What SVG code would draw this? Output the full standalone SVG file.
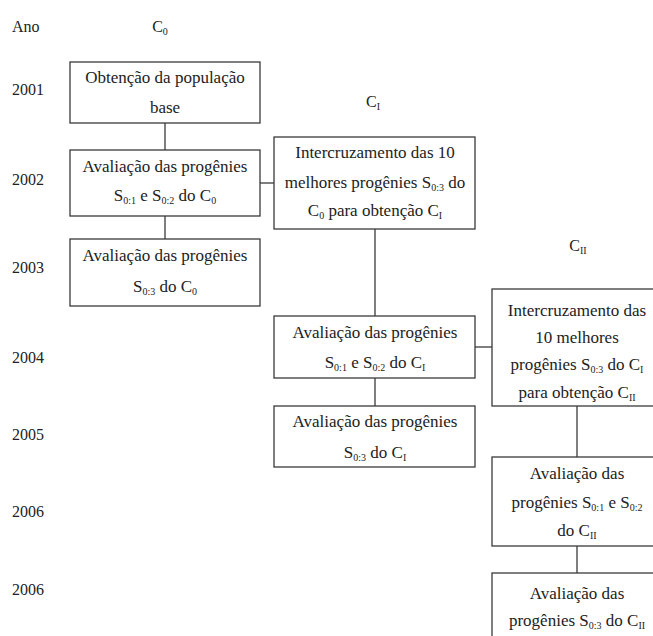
<svg xmlns="http://www.w3.org/2000/svg" width="653" height="636" viewBox="0 0 653 636" font-family="'Liberation Serif', 'Times New Roman', Tinos, 'DejaVu Serif', serif">
<style>
text{fill:#222;}
.t{font-size:17px;text-anchor:middle;}
.y{font-size:16px;}
.h{font-size:16px;text-anchor:middle;}
.box{fill:#fff;stroke:#3a3a3a;stroke-width:1.3;}
.c{stroke:#3a3a3a;stroke-width:1.3;fill:none;}
</style>
<rect width="653" height="636" fill="#fff"/>
<g id="years">
<text class="y" x="12" y="32">Ano</text>
<text class="y" x="12" y="95">2001</text>
<text class="y" x="12" y="185">2002</text>
<text class="y" x="12" y="273">2003</text>
<text class="y" x="12" y="363">2004</text>
<text class="y" x="12" y="440">2005</text>
<text class="y" x="12" y="517">2006</text>
<text class="y" x="12" y="595">2006</text>
</g>
<g id="headers">
<text class="h" x="160" y="32">C<tspan dy="3" font-size="10">0</tspan></text>
<text class="h" x="373" y="107">C<tspan dy="3" font-size="10">I</tspan></text>
<text class="h" x="578" y="251">C<tspan dy="3" font-size="10">II</tspan></text>
</g>
<g id="connectors">
<line class="c" x1="165" y1="123" x2="165" y2="150"/>
<line class="c" x1="165" y1="216" x2="165" y2="239"/>
<line class="c" x1="260" y1="183" x2="274" y2="183"/>
<line class="c" x1="375" y1="229" x2="375" y2="316"/>
<line class="c" x1="375" y1="378" x2="375" y2="406"/>
<line class="c" x1="475" y1="347" x2="492" y2="347"/>
<line class="c" x1="577" y1="406" x2="577" y2="457"/>
<line class="c" x1="577" y1="546" x2="577" y2="573"/>
</g>
<g id="c0-base">
<rect class="box" x="70" y="62" width="190" height="61"/>
<text class="t" x="165" y="83">Obtenção da população</text>
<text class="t" x="165" y="113">base</text>
</g>
<g id="c0-aval12">
<rect class="box" x="70" y="150" width="190" height="66"/>
<text class="t" x="165" y="172">Avaliação das progênies</text>
<text class="t" x="165" y="201">S<tspan dy="3" font-size="10">0:1</tspan><tspan dy="-3"> e S</tspan><tspan dy="3" font-size="10">0:2</tspan><tspan dy="-3"> do C</tspan><tspan dy="3" font-size="10">0</tspan></text>
</g>
<g id="c0-aval3">
<rect class="box" x="70" y="239" width="190" height="67"/>
<text class="t" x="165" y="261">Avaliação das progênies</text>
<text class="t" x="165" y="292">S<tspan dy="3" font-size="10">0:3</tspan><tspan dy="-3"> do C</tspan><tspan dy="3" font-size="10">0</tspan></text>
</g>
<g id="c1-inter">
<rect class="box" x="274" y="137" width="201" height="92"/>
<text class="t" x="375" y="158">Intercruzamento das 10</text>
<text class="t" x="375" y="188">melhores progênies S<tspan dy="3" font-size="10">0:3</tspan><tspan dy="-3"> do</tspan></text>
<text class="t" x="375" y="216">C<tspan dy="3" font-size="10">0</tspan><tspan dy="-3"> para obtenção C</tspan><tspan dy="3" font-size="10">I</tspan></text>
</g>
<g id="c1-aval12">
<rect class="box" x="274" y="316" width="201" height="62"/>
<text class="t" x="375" y="338">Avaliação das progênies</text>
<text class="t" x="375" y="368">S<tspan dy="3" font-size="10">0:1</tspan><tspan dy="-3"> e S</tspan><tspan dy="3" font-size="10">0:2</tspan><tspan dy="-3"> do C</tspan><tspan dy="3" font-size="10">I</tspan></text>
</g>
<g id="c1-aval3">
<rect class="box" x="274" y="406" width="201" height="61"/>
<text class="t" x="375" y="427">Avaliação das progênies</text>
<text class="t" x="375" y="458">S<tspan dy="3" font-size="10">0:3</tspan><tspan dy="-3"> do C</tspan><tspan dy="3" font-size="10">I</tspan></text>
</g>
<g id="c2-inter">
<rect class="box" x="492" y="289" width="172" height="117"/>
<text class="t" x="577" y="316">Intercruzamento das</text>
<text class="t" x="577" y="343">10 melhores</text>
<text class="t" x="577" y="370">progênies S<tspan dy="3" font-size="10">0:3</tspan><tspan dy="-3"> do C</tspan><tspan dy="3" font-size="10">I</tspan></text>
<text class="t" x="577" y="398">para obtenção C<tspan dy="3" font-size="10">II</tspan></text>
</g>
<g id="c2-aval12">
<rect class="box" x="492" y="457" width="172" height="89"/>
<text class="t" x="577" y="479">Avaliação das</text>
<text class="t" x="577" y="508">progênies S<tspan dy="3" font-size="10">0:1</tspan><tspan dy="-3"> e S</tspan><tspan dy="3" font-size="10">0:2</tspan></text>
<text class="t" x="577" y="536">do C<tspan dy="3" font-size="10">II</tspan></text>
</g>
<g id="c2-aval3">
<rect class="box" x="492" y="573" width="172" height="90"/>
<text class="t" x="577" y="599">Avaliação das</text>
<text class="t" x="577" y="626">progênies S<tspan dy="3" font-size="10">0:3</tspan><tspan dy="-3"> do C</tspan><tspan dy="3" font-size="10">II</tspan></text>
</g>
</svg>
